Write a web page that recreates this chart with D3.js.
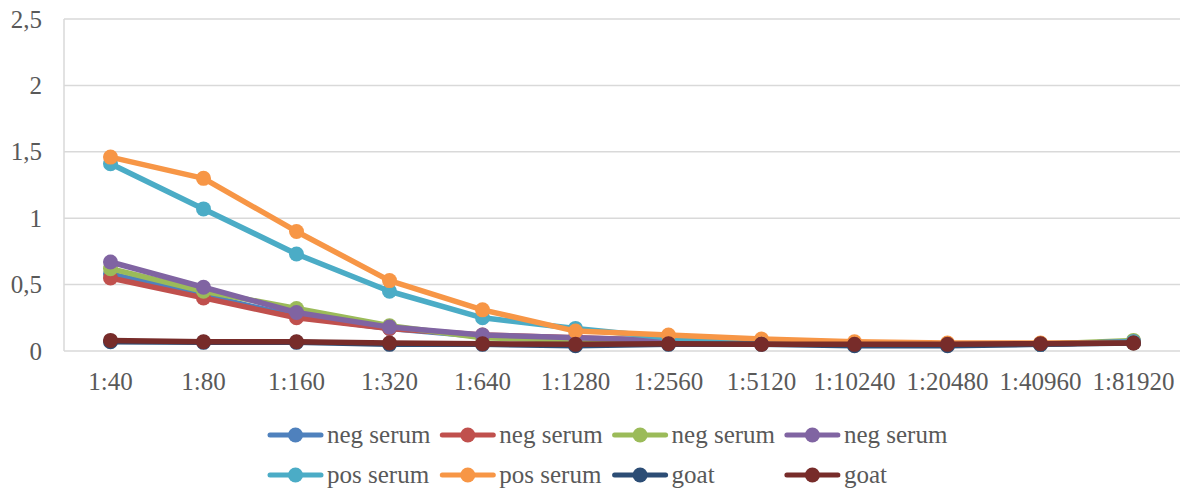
<!DOCTYPE html>
<html>
<head>
<meta charset="utf-8">
<script src="https://cdn.jsdelivr.net/npm/d3@7"></script>
<style>
  body { margin: 0; background: #fff; }
  svg text { font-family: "Liberation Serif", serif; fill: #595959; }
</style>
</head>
<body>
<div id="vis"></div>
<script>
const dilutions = ["1:40", "1:80", "1:160", "1:320", "1:640", "1:1280", "1:2560", "1:5120", "1:10240", "1:20480", "1:40960", "1:81920"];
const yTicks = [0, 0.5, 1, 1.5, 2, 2.5];

const negSerum1 = [0.58, 0.42, 0.26, 0.17, 0.11, 0.09, 0.07, 0.06, 0.05, 0.05, 0.05, 0.07];
const negSerum2 = [0.55, 0.40, 0.25, 0.17, 0.12, 0.10, 0.08, 0.06, 0.05, 0.05, 0.05, 0.07];
const negSerum3 = [0.62, 0.45, 0.32, 0.19, 0.10, 0.08, 0.07, 0.06, 0.05, 0.05, 0.05, 0.08];
const negSerum4 = [0.67, 0.48, 0.29, 0.18, 0.12, 0.10, 0.08, 0.06, 0.05, 0.05, 0.05, 0.07];
const posSerum1 = [1.41, 1.07, 0.73, 0.45, 0.25, 0.17, 0.10, 0.07, 0.06, 0.05, 0.05, 0.07];
const posSerum2 = [1.46, 1.30, 0.90, 0.53, 0.31, 0.15, 0.12, 0.09, 0.07, 0.06, 0.06, 0.06];
const goat1 = [0.07, 0.065, 0.065, 0.05, 0.05, 0.04, 0.05, 0.05, 0.04, 0.04, 0.05, 0.06];
const goat2 = [0.08, 0.07, 0.07, 0.06, 0.055, 0.05, 0.055, 0.05, 0.05, 0.05, 0.055, 0.06];

const seriesNames = ["neg serum", "neg serum", "neg serum", "neg serum", "pos serum", "pos serum", "goat", "goat"];
const seriesColors = ["#4F81BD", "#C0504D", "#9BBB59", "#8064A2", "#4BACC6", "#F79646", "#2C4D75", "#772C2A"];
const seriesValues = [negSerum1, negSerum2, negSerum3, negSerum4, posSerum1, posSerum2, goat1, goat2];

const W = 1189, H = 490;
const plot = { left: 64, right: 1180, top: 19, bottom: 351 };
const fontSize = "25px";

const svg = d3.select("#vis").append("svg")
    .attr("width", W)
    .attr("height", H);

const x = d3.scaleBand()
    .domain(dilutions)
    .range([plot.left, plot.right]);

const y = d3.scaleLinear()
    .domain([0, 2.5])
    .range([plot.bottom, plot.top]);

// gridlines
svg.append("g")
    .selectAll("line")
    .data(yTicks)
    .enter()
    .append("line")
    .attr("x1", plot.left)
    .attr("x2", plot.right)
    .attr("y1", d => y(d))
    .attr("y2", d => y(d))
    .attr("stroke", "#D9D9D9")
    .attr("stroke-width", 1.5);

svg.append("line")
    .attr("x1", plot.left).attr("x2", plot.left)
    .attr("y1", plot.top).attr("y2", plot.bottom)
    .attr("stroke", "#D9D9D9")
    .attr("stroke-width", 1.5);

// y axis labels
const yAxis = d3.axisLeft(y)
    .tickValues(yTicks)
    .tickSize(0)
    .tickPadding(22)
    .tickFormat(d => String(d).replace(".", ","));

svg.append("g")
    .attr("transform", `translate(${plot.left},0)`)
    .call(yAxis)
    .call(g => g.select(".domain").remove())
    .call(g => g.selectAll("text")
        .style("font-family", "Liberation Serif, serif")
        .style("font-size", fontSize)
        .attr("fill", "#595959"));

// x axis labels
const xAxis = d3.axisBottom(x)
    .tickSize(0)
    .tickPadding(21);

svg.append("g")
    .attr("transform", `translate(0,${plot.bottom})`)
    .call(xAxis)
    .call(g => g.select(".domain").remove())
    .call(g => g.selectAll("text")
        .style("font-family", "Liberation Serif, serif")
        .style("font-size", fontSize)
        .attr("fill", "#595959"));

const line = d3.line()
    .x((d, i) => x(dilutions[i]) + x.bandwidth() / 2)
    .y(d => y(d));

seriesValues.forEach((values, s) => {
    const g = svg.append("g");
    g.append("path")
        .datum(values)
        .attr("fill", "none")
        .attr("stroke", seriesColors[s])
        .attr("stroke-width", 5.5)
        .attr("stroke-linejoin", "round")
        .attr("d", line);

    g.selectAll("circle")
        .data(values)
        .enter()
        .append("circle")
        .attr("cx", (d, i) => x(dilutions[i]) + x.bandwidth() / 2)
        .attr("cy", d => y(d))
        .attr("r", 7.5)
        .attr("fill", seriesColors[s]);
});

// legend
const legendX0 = 268, legendStep = 172.3;
const legendRows = [435, 475];

seriesNames.forEach((name, i) => {
    const col = i % 4;
    const row = Math.floor(i / 4);
    const lx = legendX0 + col * legendStep;
    const ly = legendRows[row];
    const g = svg.append("g").attr("transform", `translate(${lx},${ly})`);
    g.append("line")
        .attr("x1", 2).attr("x2", 53)
        .attr("y1", 0).attr("y2", 0)
        .attr("stroke", seriesColors[i])
        .attr("stroke-width", 5)
        .attr("stroke-linecap", "round");
    g.append("circle")
        .attr("cx", 27.5).attr("cy", 0)
        .attr("r", 7.5)
        .attr("fill", seriesColors[i]);
    g.append("text")
        .attr("x", 59)
        .attr("y", 0)
        .attr("dy", "0.32em")
        .style("font-size", "25px")
        .text(name);
});
</script>
</body>
</html>
